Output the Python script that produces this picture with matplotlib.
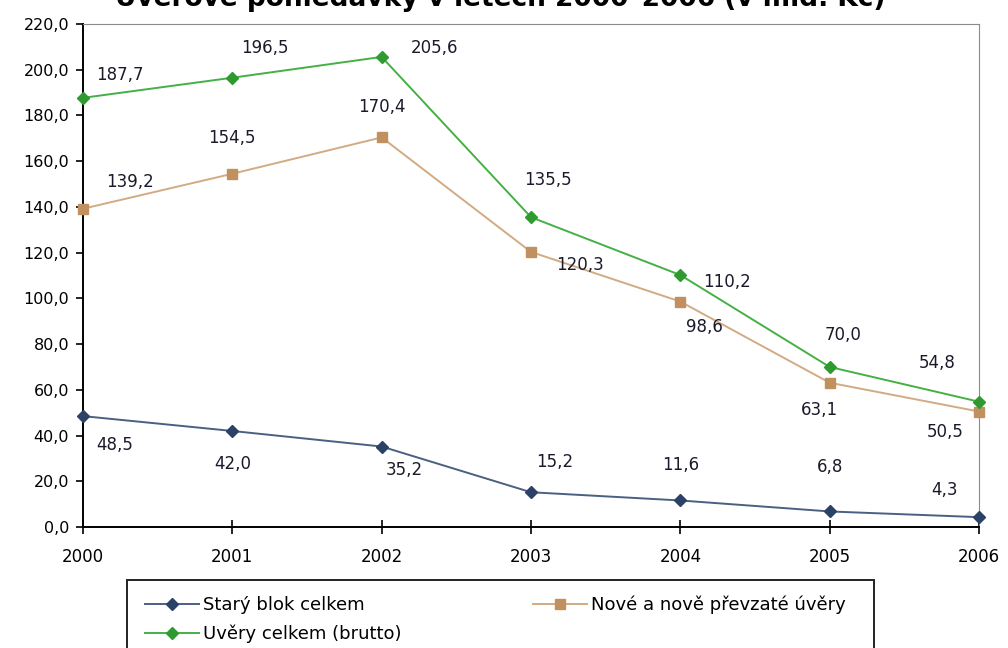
import numpy as np
import matplotlib.pyplot as plt
from matplotlib.patches import Rectangle
from matplotlib.ticker import FuncFormatter

plt.rcParams['font.family'] = ['DejaVu Sans']

years = [2000, 2001, 2002, 2003, 2004, 2005, 2006]
stary_blok = [48.5, 42.0, 35.2, 15.2, 11.6, 6.8, 4.3]
nove_uvery = [139.2, 154.5, 170.4, 120.3, 98.6, 63.1, 50.5]
uvery_celkem = [187.7, 196.5, 205.6, 135.5, 110.2, 70.0, 54.8]

# label offsets in pixels (hand placed like the original)
off_stary = [(32, -29), (0, -33), (23, -23), (24, 30), (0, 35), (0, 44), (-34, 27)]
off_nove = [(47, 27), (0, 36), (0, 30), (49, -13), (24, -25), (-10, -27), (-34, -20)]
off_celkem = [(37, 23), (33, 30), (53, 9), (17, 37), (47, -7), (13, 32), (-42, 39)]

fig = plt.figure(figsize=(10.08, 6.48), dpi=100)
ax = fig.add_axes([83/1008, 1 - 527/648, (979 - 83)/1008, (527 - 24)/648])

# Excel style: line a bit lighter than marker
l1, = ax.plot(years, stary_blok, color='#4a5f82', marker='D', markersize=6.5, mfc='#2b4266', mec='#2b4266',
              lw=1.4, clip_on=False, zorder=3)
l2, = ax.plot(years, nove_uvery, color='#d2ab84', marker='s', markersize=7.5, mfc='#c0905f', mec='#c0905f',
              lw=1.4, clip_on=False, zorder=3)
l3, = ax.plot(years, uvery_celkem, color='#45b045', marker='D', markersize=6.5, mfc='#2f9a2f', mec='#2f9a2f',
              lw=1.4, clip_on=False, zorder=3)

def fmt(v):
    return f"{v:.1f}".replace('.', ',')

for vals, offs in [(stary_blok, off_stary), (nove_uvery, off_nove), (uvery_celkem, off_celkem)]:
    for x, v, o in zip(years, vals, offs):
        ax.annotate(fmt(v), (x, v), xytext=o, textcoords='offset pixels',
                    ha='center', va='center', fontsize=12, color='#1a1a2a')

ax.set_xlim(2000, 2006)
ax.set_ylim(0, 220)
ax.set_xticks(years)
ax.set_yticks(np.arange(0, 221, 20))
ax.yaxis.set_major_formatter(FuncFormatter(lambda v, p: fmt(v)))
ax.tick_params(axis='x', direction='inout', length=10, width=1.2, labelsize=12, pad=10)
ax.tick_params(axis='y', direction='out', length=5, width=1.2, labelsize=11.5, pad=5)

for s in ['top', 'right']:
    ax.spines[s].set_color('#8c8c8c')
for s in ['left', 'bottom']:
    ax.spines[s].set_color('black')
    ax.spines[s].set_linewidth(1.4)

# title is cut off at the top in the original too
fig.text(500/1008, 1 - 6/648, 'Úvěrové pohledávky v letech 2000–2006 (v mld. Kč)',
         ha='center', va='baseline', fontsize=19, fontweight='bold')

# legend box runs past the bottom edge like in the original
fig.patches.append(Rectangle((127/1008, -0.05), (874 - 127)/1008, 0.05 + (648 - 580)/648,
                             transform=fig.transFigure, fill=False, edgecolor='#222222', lw=1.4))
fig.legend([l1, l3, l2], ['Starý blok celkem', 'Uvěry celkem (brutto)', 'Nové a nově převzaté úvěry'],
           ncol=2, loc='upper left', bbox_to_anchor=(145/1008, 1 - 596/648), frameon=False,
           fontsize=13, handlelength=3.0, columnspacing=7.3, labelspacing=0.55, handletextpad=0.2,
           borderaxespad=0, borderpad=0)

fig.savefig('out.png', dpi=100)
